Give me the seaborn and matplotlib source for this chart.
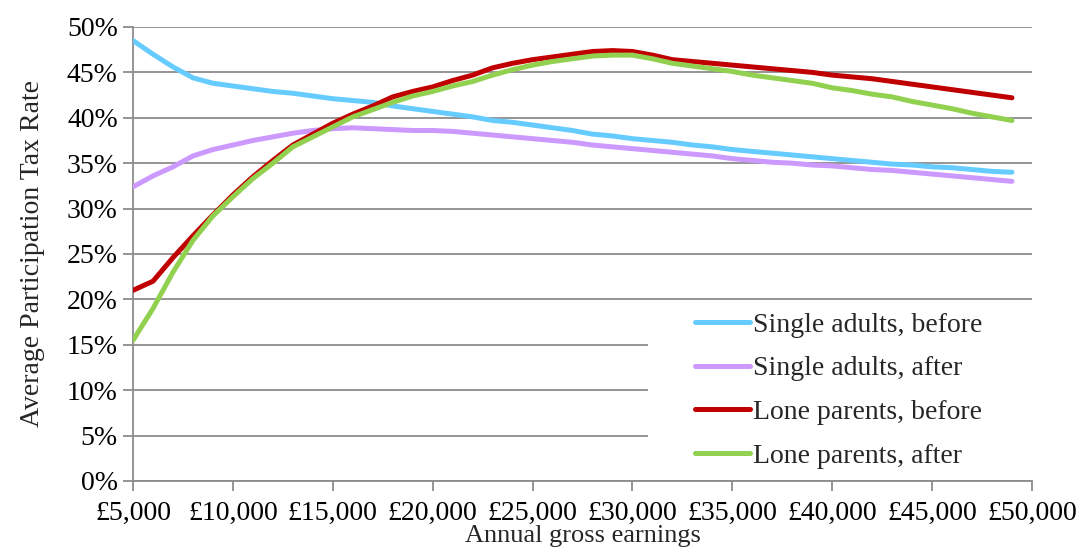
import matplotlib
matplotlib.use("Agg")
import matplotlib.pyplot as plt
import matplotlib.ticker as mticker
from matplotlib.patches import Rectangle
import pandas as pd
import seaborn as sns

# Annual gross earnings (GBP), one point per £1,000
earnings = list(range(5000, 50000, 1000))

# Average participation tax rate (%)
single_before = [48.5, 47.0, 45.6, 44.4, 43.8, 43.5, 43.2, 42.9, 42.7, 42.4,
                 42.1, 41.9, 41.7, 41.3, 41.0, 40.7, 40.4, 40.1, 39.7, 39.5,
                 39.2, 38.9, 38.6, 38.2, 38.0, 37.7, 37.5, 37.3, 37.0, 36.8,
                 36.5, 36.3, 36.1, 35.9, 35.7, 35.5, 35.3, 35.1, 34.9, 34.8,
                 34.6, 34.5, 34.3, 34.1, 34.0]
single_after = [32.4, 33.6, 34.6, 35.8, 36.5, 37.0, 37.5, 37.9, 38.3, 38.6,
                38.8, 38.9, 38.8, 38.7, 38.6, 38.6, 38.5, 38.3, 38.1, 37.9,
                37.7, 37.5, 37.3, 37.0, 36.8, 36.6, 36.4, 36.2, 36.0, 35.8,
                35.5, 35.3, 35.1, 35.0, 34.8, 34.7, 34.5, 34.3, 34.2, 34.0,
                33.8, 33.6, 33.4, 33.2, 33.0]
lone_before = [21.0, 22.0, 24.6, 27.0, 29.3, 31.5, 33.5, 35.3, 37.0, 38.2,
               39.4, 40.4, 41.3, 42.3, 42.9, 43.4, 44.1, 44.7, 45.5, 46.0,
               46.4, 46.7, 47.0, 47.3, 47.4, 47.3, 46.9, 46.4, 46.2, 46.0,
               45.8, 45.6, 45.4, 45.2, 45.0, 44.7, 44.5, 44.3, 44.0, 43.7,
               43.4, 43.1, 42.8, 42.5, 42.2]
lone_after = [15.5, 19.0, 23.0, 26.5, 29.2, 31.3, 33.3, 35.0, 36.8, 37.9,
              39.0, 40.1, 40.9, 41.7, 42.4, 42.9, 43.5, 44.0, 44.7, 45.3,
              45.8, 46.2, 46.5, 46.8, 46.9, 46.9, 46.5, 46.0, 45.7, 45.4,
              45.1, 44.7, 44.4, 44.1, 43.8, 43.3, 43.0, 42.6, 42.3, 41.8,
              41.4, 41.0, 40.5, 40.1, 39.7]

series_names = ["Single adults, before", "Single adults, after",
                "Lone parents, before", "Lone parents, after"]
series_values = [single_before, single_after, lone_before, lone_after]
colors = ["#66CCFF", "#CC99FF", "#C00000", "#92D050"]

df = pd.concat([
    pd.DataFrame({"earnings": earnings, "rate": vals, "group": name})
    for name, vals in zip(series_names, series_values)
])

sns.set_style("white")
plt.rcParams["font.family"] = ["Liberation Serif", "DejaVu Serif"]

fig = plt.figure(figsize=(10.79, 5.54), dpi=100)
ax = fig.add_axes([0.1233, 0.1318, 0.8331, 0.8195])

sns.lineplot(data=df, x="earnings", y="rate", hue="group", hue_order=series_names,
             palette=colors, linewidth=3.6, ax=ax, legend=True, zorder=3)

ax.set_xlim(5000, 50000)
ax.set_ylim(0, 50)
ax.set_xticks(range(5000, 50001, 5000))
ax.set_yticks(range(0, 51, 5))
ax.xaxis.set_major_formatter(mticker.FuncFormatter(lambda v, p: "£{:,.0f}".format(v)))
ax.yaxis.set_major_formatter(mticker.FuncFormatter(lambda v, p: "{:.0f}%".format(v)))

ax.grid(axis="y", color="#8c8c8c", linewidth=1.3, zorder=0)
ax.set_axisbelow(True)
for s in ["top", "right"]:
    ax.spines[s].set_visible(False)
for s in ["left", "bottom"]:
    ax.spines[s].set_color("#8c8c8c")
    ax.spines[s].set_linewidth(1.3)
ax.tick_params(axis="both", direction="out", length=7, width=1.3, color="#8c8c8c",
               labelsize=20, labelcolor="black")
ax.tick_params(axis="x", pad=7, bottom=True)
ax.tick_params(axis="y", pad=4, left=True)

ax.set_xlabel("Annual gross earnings", fontsize=19, labelpad=0)
ax.set_ylabel("Average Participation Tax Rate", fontsize=20, labelpad=16)

# white block behind legend hides gridlines there
ax.add_patch(Rectangle((0.573, 0.02), 0.427, 0.37, transform=ax.transAxes,
                       facecolor="white", edgecolor="none", zorder=1))

handles, labels = ax.get_legend_handles_labels()
ax.legend(handles, labels, loc="upper left", bbox_to_anchor=(0.625, 0.372),
          frameon=False, fontsize=20, handlelength=2.0, handletextpad=0.1,
          labelspacing=0.66, borderpad=0, borderaxespad=0)

fig.savefig("out.png", dpi=100)
